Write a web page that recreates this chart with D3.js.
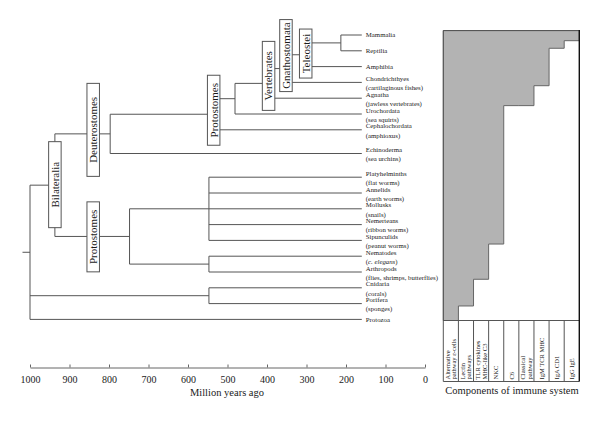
<!DOCTYPE html>
<html><head><meta charset="utf-8">
<script src="https://cdn.jsdelivr.net/npm/d3@7"></script>
<style>body{margin:0;background:#fff}svg{display:block}</style>
</head><body><svg id="c" width="600" height="421"></svg>
<script>
// ---------- DATA ----------
const leafNames = ["Mammalia","Reptilia","Amphibia","Chondrichthyes","Agnatha","Urochordata","Cephalochordata","Echinoderma","Platyhelminths","Annelids","Mollusks","Nemerteans","Sipunculids","Nematodes","Arthropods","Cnidaria","Porifera","Protozoa"];
const leafCommon = ["","","","(cartilaginous fishes)","(jawless vertebrates)","(sea squirts)","(amphioxus)","(sea urchins)","(flat worms)","(earth worms)","(snails)","(ribbon worms)","(peanut worms)","(c. elegans)","(flies, shrimps, butterflies)","(corals)","(sponges)",""];
const leafRows = [0,1,2,3,4,5,6,7.5,9,10,11,12,13,14,15,16,17,18];
const leafParents = ["amniota","amniota","tetrapoda","gnatho","vertebrata","olfactores","chordata","deutero","lopho","lopho","lopho","lopho","lopho","ecdyso","ecdyso","basal","basal","root"];
const tipTime = 160; // Mya where tips end

const nodeIds     = ["root","bilateria","deutero","chordata","olfactores","vertebrata","gnatho","tetrapoda","amniota","protostomia","lopho","ecdyso","basal"];
const nodeParents = [null,"root","bilateria","deutero","chordata","olfactores","vertebrata","gnatho","tetrapoda","bilateria","protostomia","protostomia","root"];
const nodeTimes   = [1000,937,797,535,481,396,352,302,213,748,547,547,547];
const nodeLabels  = ["","Bilateralia","Deuterostomes","Protostomes","","Vertebrates","Gnathostomata","Teleostei","","Protostomes","","",""];

const axisTicks = [1000,900,800,700,600,500,400,300,200,100,0];
const immuneComponents = [["Alternative","pathway ε-cells"],["Lectin","pathways"],["TLR cytokines","MHC-like C3"],["NKC"],["C6"],["Classical","pathway"],["IgM TCR MHC"],["IgA CD1"],["IgG IgE"]];
const immuneDepth = [18.07,17.15,15.46,13.23,4.47,4.47,3.21,0.84,0.36]; // deepest taxon row having the component

// ---------- LAYOUT / STYLE ----------
const boxLayout = {
  bilateria:{at:null,dy:-0.5,h:86},
  deutero:{at:840,dy:-4,h:93},
  chordata:{at:null,dy:-4,h:70},
  vertebrata:{at:null,dy:-7.5,h:69},
  gnatho:{at:null,dy:-13,h:72},
  tetrapoda:{at:null,dy:-1.2,h:49},
  protostomia:{at:840,dy:0.4,h:70}
};
const lineColor = "#555";
const serif = "'Liberation Serif', serif";

(function(){
const svg = d3.select("#c");
const x = d3.scaleLinear().domain([1000,0]).range([30,425]);
const y = d3.scaleLinear().domain([0,18]).range([35,319.4]);

const nodes = {};
nodeIds.forEach((id,i)=>{nodes[id]={id,parent:nodeParents[i],time:nodeTimes[i],label:nodeLabels[i],children:[]};});
const leaves = leafNames.map((n,i)=>({id:n,common:leafCommon[i],parent:leafParents[i],time:tipTime,y:y(leafRows[i]),leaf:true}));
leaves.forEach(l=>nodes[l.parent].children.push(l));
nodeIds.forEach(id=>{const p=nodes[id].parent; if(p) nodes[p].children.push(nodes[id]);});
function layout(n){
  if(n.leaf) return n.y;
  const ys=n.children.map(layout);
  n.y0=d3.min(ys); n.y1=d3.max(ys); n.y=(n.y0+n.y1)/2; return n.y;
}
layout(nodes.root);

const g = svg.append("g").attr("stroke",lineColor).attr("stroke-width",1).attr("fill","none");
const all = [...nodeIds.map(id=>nodes[id]), ...leaves];
all.forEach(n=>{
  if(!n.parent) return;
  const p = nodes[n.parent];
  g.append("line").attr("x1",x(p.time)).attr("x2",x(n.time)).attr("y1",n.y).attr("y2",n.y);
});
nodeIds.forEach(id=>{const n=nodes[id];
  g.append("line").attr("x1",x(n.time)).attr("x2",x(n.time)).attr("y1",n.y0).attr("y2",n.y1);
});
g.append("line").attr("x1",x(nodes.root.time)-7.5).attr("x2",x(nodes.root.time)).attr("y1",nodes.root.y).attr("y2",nodes.root.y);

Object.keys(boxLayout).forEach(id=>{
  const n=nodes[id], L=boxLayout[id];
  const cx = x(L.at==null? n.time : L.at);
  const cy = n.y + L.dy;
  const bw = 12.5;
  const bg = svg.append("g").attr("transform",`translate(${cx},${cy})`);
  bg.append("rect").attr("x",-bw/2).attr("y",-L.h/2).attr("width",bw).attr("height",L.h)
    .attr("fill","#fff").attr("stroke",lineColor).attr("stroke-width",1);
  bg.append("text").attr("transform","rotate(-90)").attr("text-anchor","middle")
    .attr("dy","0.35em").attr("font-family",serif).attr("font-size",11).attr("fill","#1a1a1a").text(n.label);
});

const lt = svg.append("g").attr("font-family",serif).attr("font-size",6.8).attr("fill","#222");
leaves.forEach(l=>{
  const tx = x(tipTime)+4;
  lt.append("text").attr("x",tx).attr("y",l.common? l.y-3.8 : l.y).attr("dy","0.35em").text(l.id);
  if(l.common){
    const t2 = lt.append("text").attr("x",tx).attr("y",l.y+5.5).attr("dy","0.35em");
    if(l.id==="Nematodes"){ t2.append("tspan").text("("); t2.append("tspan").attr("font-style","italic").text("c. elegans"); t2.append("tspan").text(")"); }
    else t2.text(l.common);
  }
});

const ax = svg.append("g").attr("transform","translate(0,367.5)")
  .call(d3.axisBottom(x).tickValues(axisTicks).tickSize(-3).tickSizeOuter(0).tickPadding(8).tickFormat(d3.format("d")));
ax.attr("font-family",null);
ax.select(".domain").attr("stroke","#666");
ax.selectAll(".tick line").attr("stroke","#666");
ax.selectAll("text").attr("font-family",serif).attr("font-size",10).attr("fill","#1a1a1a");
svg.append("text").attr("x",227).attr("y",396).attr("text-anchor","middle").attr("font-family",serif).attr("font-size",10.5).attr("fill","#1a1a1a").text("Million years ago");

const px0=443.3, px1=579.3;
const col = d3.scaleBand().domain(d3.range(immuneComponents.length)).range([px0,px1]).padding(0);
const pTop = y(-0.28), pBottom = y(18.07), lblBottom = 381.5;
let pts = [[px0,pTop],[px1,pTop]];
for(let i=immuneComponents.length-1;i>=0;i--){
  const yy = Math.min(y(immuneDepth[i]),pBottom);
  pts.push([col(i)+col.bandwidth(), yy]); pts.push([col(i), yy]);
}
pts.push([px0,pBottom]);
svg.append("path").attr("d",d3.line()(pts)+"Z").attr("fill","#b3b3b3").attr("stroke","#666").attr("stroke-width",1);
const pg = svg.append("g").attr("stroke","#555").attr("stroke-width",1);
pg.append("line").attr("x1",px0).attr("x2",px1).attr("y1",pTop).attr("y2",pTop);
pg.append("line").attr("x1",px0).attr("x2",px0).attr("y1",pTop).attr("y2",lblBottom);
pg.append("line").attr("x1",px0).attr("x2",px1).attr("y1",pBottom).attr("y2",pBottom);
pg.append("line").attr("x1",px0).attr("x2",px1).attr("y1",lblBottom).attr("y2",lblBottom);
d3.range(1,immuneComponents.length).forEach(i=>{
  pg.append("line").attr("x1",col(i)).attr("x2",col(i)).attr("y1",pBottom).attr("y2",lblBottom);
});
pg.append("line").attr("x1",px1).attr("x2",px1).attr("y1",pTop-0.5).attr("y2",lblBottom).attr("stroke","#111").attr("stroke-width",1.4);

immuneComponents.forEach((lines,i)=>{
  const cx = col(i)+col.bandwidth()/2;
  const t = svg.append("text").attr("transform",`translate(${cx},${lblBottom-2}) rotate(-90)`)
    .attr("font-family",serif).attr("font-size",6.5).attr("fill","#222");
  const n=lines.length;
  lines.forEach((s,k)=>{
    t.append("tspan").attr("x",0).attr("y",(k-(n-1)/2)*6.5).attr("dy","0.35em").text(s);
  });
});
svg.append("text").attr("x",512).attr("y",394).attr("text-anchor","middle").attr("font-family",serif).attr("font-size",10.5).attr("fill","#1a1a1a").text("Components of immune system");
})();
</script></body></html>
